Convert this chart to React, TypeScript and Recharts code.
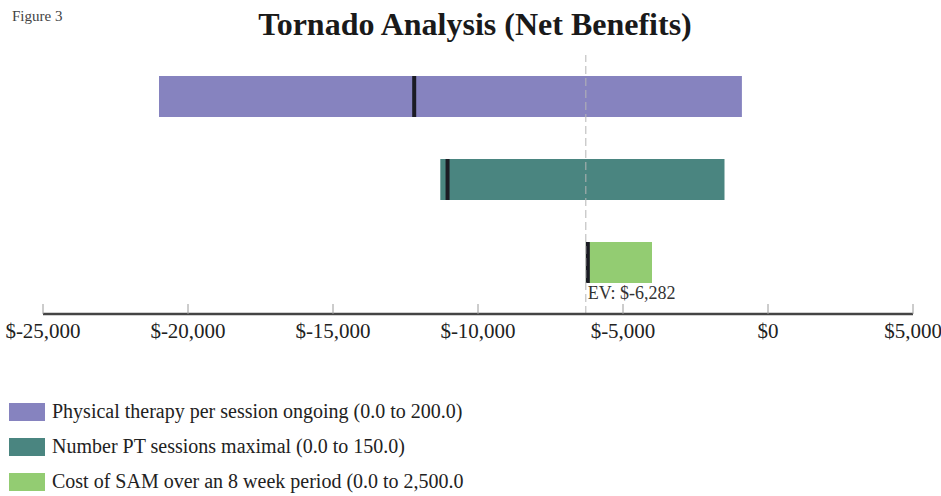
import { BarChart, Bar, XAxis, YAxis, ReferenceLine, Cell } from 'recharts';

const categories = [
  'Physical therapy per session ongoing (0.0 to 200.0)',
  'Number PT sessions maximal (0.0 to 150.0)',
  'Cost of SAM over an 8 week period (0.0 to 2,500.0',
];
const lowValues = [-21000, -11300, -6282];
const highValues = [-900, -1500, -4000];
const markerValues = [-12200, -11050, -6282];
const expectedValue = -6282;
const xTicks = [-25000, -20000, -15000, -10000, -5000, 0, 5000];

const COLORS = ['#8683bf', '#4a8580', '#93cc72'];
const FONT = '"Liberation Serif", "Times New Roman", serif';

const data = categories.map((name, i) => ({
  name,
  range: [lowValues[i], highValues[i]],
  marker: markerValues[i],
}));

const money = (v: number) => `$${v.toLocaleString('en-US')}`;

// bar with the base-case marker drawn inside it
function BarWithMarker(props: any) {
  const { x, y, width, height, fill, payload } = props;
  const x0 = Math.min(x, x + width);
  const w = Math.abs(width);
  const [lo, hi] = payload.range;
  const mx = x0 + ((payload.marker - lo) / (hi - lo)) * w;
  return (
    <g>
      <rect x={x0} y={y} width={w} height={height} fill={fill} />
      <rect x={Math.max(x0, mx - 2)} y={y} width={4} height={height} fill="#1b1b24" />
    </g>
  );
}

function AxisTick(props: any) {
  const { x, y, payload } = props;
  return (
    <g>
      <line x1={x} y1={y} x2={x} y2={y - 10} stroke="#9a9a9a" strokeWidth={1} />
      <text x={x} y={y + 24} textAnchor="middle" fontFamily={FONT} fontSize={21} fill="#222">
        {money(payload.value)}
      </text>
    </g>
  );
}

function EvLabel(props: any) {
  const { viewBox } = props;
  return (
    <text x={viewBox.x + 2} y={299} fontFamily={FONT} fontSize={18} fill="#333">
      EV: {money(expectedValue)}
    </text>
  );
}

export default function App() {
  return (
    <div style={{ position: 'relative', width: 941, height: 496, background: '#fff', fontFamily: FONT }}>
      <style>{'body{margin:0}'}</style>
      <div style={{ position: 'absolute', left: 12, top: 8, fontSize: 15, color: '#444' }}>Figure 3</div>
      <div
        style={{
          position: 'absolute', left: 0, width: 950, top: 6, textAlign: 'center',
          fontSize: 32, fontWeight: 'bold', color: '#1a1a1a',
        }}
      >
        Tornado Analysis (Net Benefits)
      </div>
      <div style={{ position: 'absolute', left: 0, top: 0 }}>
        <BarChart
          width={941}
          height={380}
          data={data}
          layout="vertical"
          margin={{ top: 55, right: 28, bottom: 36, left: 43 }}
        >
          <YAxis type="category" dataKey="name" hide padding={{ top: 0, bottom: 10 }} />
          <XAxis
            type="number"
            domain={[-25000, 5000]}
            ticks={xTicks}
            height={30}
            tickSize={0}
            tickMargin={0}
            tickLine={false}
            axisLine={{ stroke: '#444', strokeWidth: 2.5 }}
            tick={<AxisTick />}
          />
          <ReferenceLine
            x={expectedValue}
            stroke="#b5b5b5"
            strokeDasharray="8 4"
            label={<EvLabel />}
          />
          <Bar dataKey="range" barSize={41} shape={<BarWithMarker />} isAnimationActive={false}>
            {data.map((_, i) => (
              <Cell key={i} fill={COLORS[i]} />
            ))}
          </Bar>
        </BarChart>
      </div>
      <div style={{ position: 'absolute', left: 9, top: 394 }}>
        {categories.map((name, i) => (
          <div key={name} style={{ display: 'flex', alignItems: 'center', height: 35 }}>
            <div style={{ width: 36, height: 18, background: COLORS[i], marginRight: 7 }} />
            <span style={{ fontSize: 20, color: '#222' }}>{name}</span>
          </div>
        ))}
      </div>
    </div>
  );
}
